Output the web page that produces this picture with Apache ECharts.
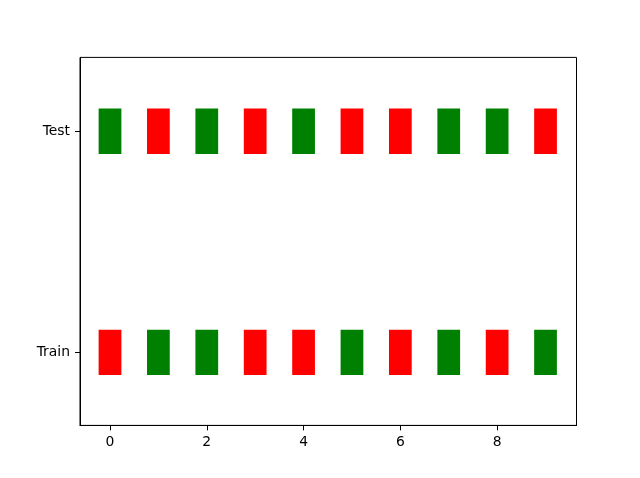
<!DOCTYPE html>
<html><head><meta charset="utf-8">
<script src="https://cdn.jsdelivr.net/npm/echarts@6/dist/echarts.min.js"></script>
<style>html,body{margin:0;padding:0;background:#fff}#c{width:640px;height:478px}</style>
</head><body><div id="c"></div>
<script>
const rows = ['Train', 'Test'];
const positions = [0, 1, 2, 3, 4, 5, 6, 7, 8, 9];
const trainColors = ['red', 'green', 'green', 'red', 'red', 'green', 'red', 'green', 'red', 'green'];
const testColors  = ['green', 'red', 'green', 'red', 'green', 'red', 'red', 'green', 'green', 'red'];
const xTicks = [0, 2, 4, 6, 8];
const yTicks = [0, 1];
const barWidth = 0.47;
const barHeight = 0.205;

const data = [];
positions.forEach((p, i) => {
  data.push({ value: [p, 0], itemStyle: { color: trainColors[i] } });
  data.push({ value: [p, 1], itemStyle: { color: testColors[i] } });
});

const chart = echarts.init(document.getElementById('c'), null, { renderer: 'canvas' });
const font = { fontFamily: 'DejaVu Sans', fontSize: 13.9, color: '#000' };
chart.setOption({
  animation: false,
  backgroundColor: '#fff',
  grid: { left: 80, top: 57.4, width: 496.5, height: 368, containLabel: false, show: true, borderColor: '#000', borderWidth: 1 },
  xAxis: {
    type: 'value', min: -0.62, max: 9.64,
    splitLine: { show: false },
    axisLine: { show: true, onZero: false, lineStyle: { color: '#000', width: 1 } },
    axisTick: { show: true, length: 5, inside: false, lineStyle: { color: '#000', width: 1 }, customValues: xTicks },
    axisLabel: { ...font, margin: 10, customValues: xTicks, formatter: v => String(v) }
  },
  yAxis: {
    type: 'value', min: -0.33, max: 1.334,
    splitLine: { show: false },
    axisLine: { show: true, onZero: false, lineStyle: { color: '#000', width: 1 } },
    axisTick: { show: true, length: 5, inside: false, lineStyle: { color: '#000', width: 1 }, customValues: yTicks },
    axisLabel: { ...font, margin: 10, customValues: yTicks, formatter: v => rows[Math.round(v)] }
  },
  series: [{
    type: 'custom',
    renderItem: (params, api) => {
      const x = api.value(0), y = api.value(1);
      const p1 = api.coord([x - barWidth / 2, y + barHeight / 2]);
      const p2 = api.coord([x + barWidth / 2, y - barHeight / 2]);
      return {
        type: 'rect',
        shape: { x: p1[0], y: p1[1], width: p2[0] - p1[0], height: p2[1] - p1[1] },
        style: { fill: api.visual('color') }
      };
    },
    encode: { x: 0, y: 1 },
    data: data
  }]
});
</script></body></html>
